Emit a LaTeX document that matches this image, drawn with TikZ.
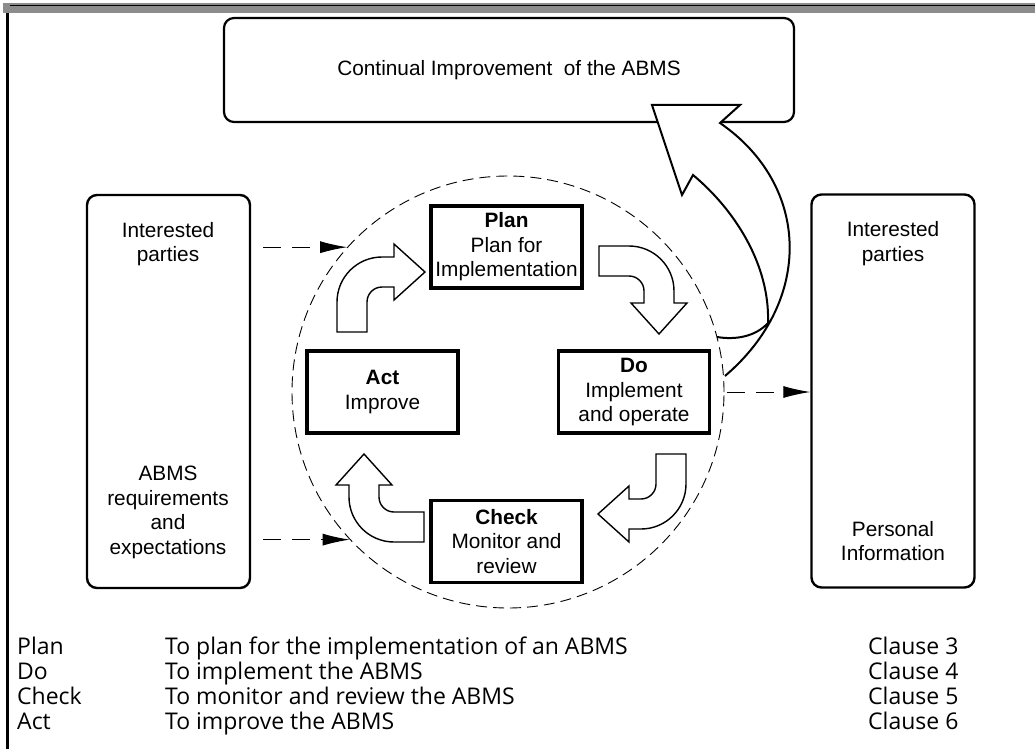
\documentclass[tikz,border=0pt]{standalone}
\usepackage{fontspec}
\setmainfont{Liberation Sans}
\newfontfamily\legendfont{Open Sans}
\usetikzlibrary{arrows.meta}
\tikzset{
  diag/.style={font=\fontsize{20.8}{24.6}\selectfont, align=center, inner sep=0pt},
  pdca/.style={diag, draw, line width=3.2pt, minimum width=151pt, minimum height=82pt},
  sidebox/.style={draw, line width=2.4pt, rounded corners=10pt, minimum width=163pt, minimum height=393pt},
  topbox/.style={diag, draw, line width=2.2pt, rounded corners=10pt, minimum width=570pt, minimum height=104pt},
  dasharr/.style={dash pattern=on 18pt off 11pt, line width=1pt, -{Latex[length=27pt,width=12pt]}},
  blk/.style={draw, line width=1.4pt, fill=white, line join=miter},
  bigarr/.style={draw, line width=2pt, line join=miter},
  legend/.style={anchor=base west, inner sep=0pt, font=\legendfont\fontsize{23}{26}\selectfont},
  pdcaarrow/.pic={
    \path[blk] (0,0) -- (30,0) .. controls (54.85,0) and (75,20.15) .. (75,45)
      -- (75,57) -- (88,57) -- (60,88) -- (32,57) -- (45,57) -- (45,45)
      .. controls (45,36.72) and (38.28,30) .. (30,30) -- (0,30) -- cycle;
  }
}
\begin{document}
\begin{tikzpicture}[x=1pt,y=-1pt]
\useasboundingbox (0,0) rectangle (1035,749);
\fill[white] (0,0) rectangle (1035,749);
% frame
\fill[black!45] (3,3) rectangle (1035,13);
\draw[line width=1.2pt] (10,5.5) -- (1035,5.5);
\draw[line width=3pt] (7.5,13) -- (7.5,749);

% top box
\node[topbox] (ci) at (509,70) {Continual Improvement\ \ of the ABMS};

% side boxes
\node[sidebox] (lbox) at (168.5,391.5) {};
\node[sidebox] (rbox) at (893,391) {};
\node[diag] (lt) at (168,244) {Interested\\parties};
\node[diag] (lb) at (168,512.5) {ABMS\\requirements\\and\\expectations};
\node[diag] (rt) at (893,243.5) {Interested\\parties};
\node[diag] (rb) at (893,541) {Personal\\Information};

% dashed circle
\node[circle, draw, line width=0.9pt, dash pattern=on 11pt off 6pt, minimum size=432pt, inner sep=0pt] (cyc) at (508,392) {};

% PDCA boxes
\node[pdca] (plan) at (506.5,247) {\textbf{Plan}\\Plan for\\Implementation};
\node[pdca] (act) at (382.5,392) {\textbf{Act}\\Improve};
\node[pdca] (do) at (634,392) {\textbf{Do}\\Implement\\and operate};
\node[pdca] (check) at (506.5,541.5) {\textbf{Check}\\Monitor and\\review};

% block arrows of the cycle
\pic at (599,246) {pdcaarrow};
\pic[rotate=-90] at (686,454) {pdcaarrow};
\pic[rotate=180] at (424,542) {pdcaarrow};
\pic[rotate=90] at (337,332) {pdcaarrow};

% big curved arrow to continual improvement
\fill[white] (652,105) -- (740,105) -- (720,123) -- (735,135) -- (693,175) -- (682,195) -- cycle;
\path[bigarr] (725,376) .. controls (814,300) and (810,185) .. (720,123)
  -- (740,105) -- (652,105) -- (682,195) -- (693,175)
  .. controls (735,210) and (770,265) .. (768,323)
  .. controls (755,337) and (735,340) .. (717,337);

% dashed connectors
\draw[dasharr] ([xshift=12pt]lbox.east |- cyc.138) -- (cyc.138);
\draw[dasharr] ([xshift=12pt]lbox.east |- cyc.223.5) -- (cyc.223.5);
\draw[dasharr] ([xshift=3pt]cyc.east) -- (rbox.west |- cyc.east);

% legend
\node[legend] (l1a) at (17,654) {Plan};
\node[legend] (l1b) at (165,654) {To plan for the implementation of an ABMS};
\node[legend] (l1c) at (868,654) {Clause 3};
\node[legend] (l2a) at (17,679) {Do};
\node[legend] (l2b) at (165,679) {To implement the ABMS};
\node[legend] (l2c) at (868,679) {Clause 4};
\node[legend] (l3a) at (17,704) {Check};
\node[legend] (l3b) at (165,704) {To monitor and review the ABMS};
\node[legend] (l3c) at (868,704) {Clause 5};
\node[legend] (l4a) at (17,729) {Act};
\node[legend] (l4b) at (165,729) {To improve the ABMS};
\node[legend] (l4c) at (868,729) {Clause 6};
\end{tikzpicture}
\end{document}
